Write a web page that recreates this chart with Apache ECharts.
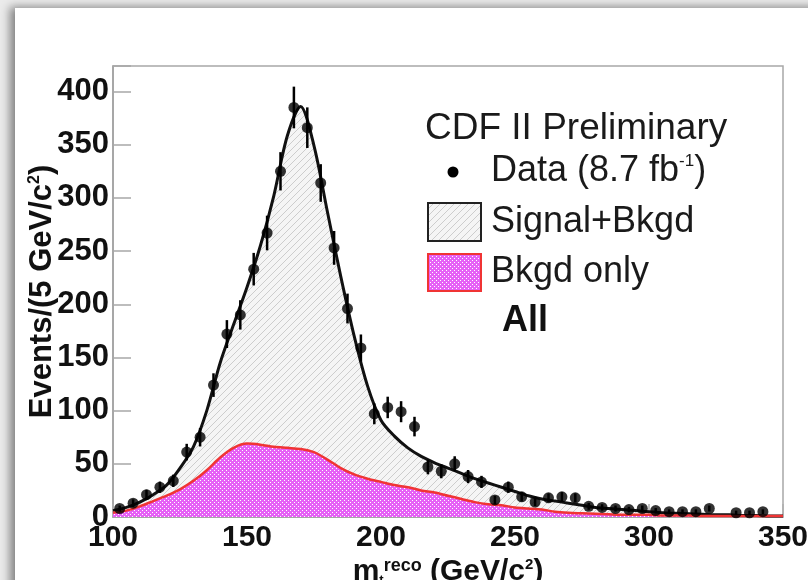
<!DOCTYPE html>
<html><head><meta charset="utf-8">
<script src="https://cdn.jsdelivr.net/npm/echarts@6/dist/echarts.min.js"></script>
<style>
html,body{margin:0;padding:0;width:808px;height:580px;overflow:hidden;background:#ebebeb;}
#card{position:absolute;left:15px;top:8px;width:830px;height:610px;background:#fff;box-shadow:-5px -1px 9px rgba(0,0,0,0.45);}
#chart{position:absolute;left:0;top:0;width:808px;height:580px;}
</style></head><body><div id="card"></div><div id="chart"></div>
<script>
// ---- data ----
const dataX = [102.5,107.5,112.5,117.5,122.5,127.5,132.5,137.5,142.5,147.5,
  152.5,157.5,162.5,167.5,172.5,177.5,182.5,187.5,192.5,197.5,
  202.5,207.5,212.5,217.5,222.5,227.5,232.5,237.5,242.5,247.5,
  252.5,257.5,262.5,267.5,272.5,277.5,282.5,287.5,292.5,297.5,
  302.5,307.5,312.5,317.5,322.5,327.5,332.5,337.5,342.5,347.5];
const dataY = [8,13,21,28,34,61,75,124,172,190,
  233,267,325,385,366,314,253,196,159,97,
  103,99,85,47,43,50,38,33,16,28,
  19,14,18,19,18,10,9,8,7,8,
  6,5,5,5,8,null,4,4,5,null];
const dataErr = [2.8,3.6,4.6,5.3,5.8,7.8,8.7,11.1,13.1,13.8,
  15.3,16.3,18.0,19.6,19.1,17.7,15.9,14.0,12.6,9.8,
  10.1,9.9,9.2,6.9,6.6,7.1,6.2,5.7,4.0,5.3,
  4.4,3.7,4.2,4.4,4.2,3.2,3.0,2.8,2.6,2.8,
  2.4,2.2,2.2,2.2,2.8,null,2.0,2.0,2.2,null];
const curveX = [100,105,110,115,120,125,130,135,140,145,
  150,155,160,165,170,175,180,185,190,195,
  200,205,210,215,220,225,230,235,240,245,
  250,255,260,265,270,275,280,285,290,295,
  300,305,310,315,320,325,330,335,340,345,350];
const sigBkgY = [6,9,14,21,30,46,66,100,145,181,
  216,255,302,358,386,349,287,226,170,123,
  91,76,65,57,51,46,41,36,32,28,
  24,20,17,15,13,11,9,8,7,6,
  5,4,3.5,3,2.5,2,2,1.5,1.5,1,1];
const bkgY = [4,6,10,15,20,26,34,44,56,65,
  69,68,66,65,64,61,54,46,40,36,
  33,30,28,25,23,20,17,14,12,11,
  9,8,7,5,4,3.5,3,2.5,2,2,
  2,1.5,1.5,1.5,1,1,1,1,1,1,1];
const xTicks = [100,150,200,250,300,350];
const yTicks = [0,50,100,150,200,250,300,350,400];

// ---- fill patterns ----
function hatchPattern(){
  const c=document.createElement('canvas'); c.width=7; c.height=7;
  const g=c.getContext('2d');
  g.fillStyle='#f5f5f5'; g.fillRect(0,0,7,7);
  g.strokeStyle='#cdcdcd'; g.lineWidth=1;
  g.beginPath();
  [-7,0,7].forEach(o=>{g.moveTo(o,7);g.lineTo(o+7,0);});
  g.stroke();
  return c;
}
function checkPattern(){
  const c=document.createElement('canvas'); c.width=4; c.height=4;
  const g=c.getContext('2d');
  g.fillStyle='#e660f6'; g.fillRect(0,0,4,4);
  g.fillStyle='#ffffff'; g.fillRect(0,0,1,1); g.fillRect(2,2,1,1);
  return c;
}
const hatch = hatchPattern(), check = checkPattern();
const FF = '"Liberation Sans", Arial, Helvetica, sans-serif';

const chart = echarts.init(document.getElementById('chart'), null, {renderer:'canvas'});
const option = {
  animation:false,
  grid:{left:113,right:25,top:66,bottom:63,containLabel:false,outerBoundsMode:'none',
    show:true,borderColor:'#a8a8a8',borderWidth:1.5,backgroundColor:'transparent'},
  xAxis:{type:'value',min:100,max:350,interval:50,
    axisLine:{show:true,onZero:false,lineStyle:{color:'#a0a0a0',width:1.5}},
    axisTick:{show:true,inside:true,length:13,lineStyle:{color:'#b0b0b0',width:1.5}},
    splitLine:{show:false},
    axisLabel:{show:true,margin:6,color:'#111',fontFamily:FF,fontWeight:'bold',fontSize:30,
      formatter:v=>xTicks.includes(v)?String(v):''},
    name:'{m|m}{t|t}{r|reco}{b| (GeV/c}{s|2}{b|)}',
    nameLocation:'middle',nameGap:40,nameMoveOverlap:false,
    nameTextStyle:{color:'#111',rich:{
      m:{fontFamily:FF,fontWeight:'bold',fontSize:30,color:'#111'},
      t:{fontFamily:FF,fontWeight:'bold',fontSize:13,color:'#111',verticalAlign:'bottom'},
      r:{fontFamily:FF,fontWeight:'bold',fontSize:18,color:'#111',verticalAlign:'top'},
      b:{fontFamily:FF,fontWeight:'bold',fontSize:30,color:'#111'},
      s:{fontFamily:FF,fontWeight:'bold',fontSize:15,color:'#111',verticalAlign:'top'}}}
  },
  yAxis:{type:'value',min:0,max:424,interval:50,
    axisLine:{show:true,lineStyle:{color:'#a0a0a0',width:1.5}},
    axisTick:{show:true,inside:true,length:18,lineStyle:{color:'#a8a8a8',width:1.5}},
    splitLine:{show:false},
    axisLabel:{show:true,margin:4,color:'#111',fontFamily:FF,fontWeight:'bold',fontSize:31,
      formatter:v=>yTicks.includes(v)?String(v):''},
    name:'{b|Events/(5 GeV/c}{s|2}{b|)}',
    nameLocation:'middle',nameGap:55,nameRotate:90,nameMoveOverlap:false,
    nameTextStyle:{color:'#111',rich:{
      b:{fontFamily:FF,fontWeight:'bold',fontSize:31,color:'#111'},
      s:{fontFamily:FF,fontWeight:'bold',fontSize:16,color:'#111',verticalAlign:'top'}}}
  },
  series:[
    {name:'Signal+Bkgd',type:'line',smooth:0.3,symbol:'none',z:2,
      data:curveX.map((x,i)=>[x,sigBkgY[i]]),
      lineStyle:{color:'#111',width:3},
      areaStyle:{color:{image:hatch,repeat:'repeat'},opacity:1}},
    {name:'Bkgd only',type:'line',smooth:0.3,symbol:'none',z:3,
      data:curveX.map((x,i)=>[x,bkgY[i]]),
      lineStyle:{color:'#f03434',width:2.5},
      areaStyle:{color:{image:check,repeat:'repeat'},opacity:1}},
    {name:'errors',type:'custom',z:4,silent:true,
      data:dataX.map((x,i)=>dataY[i]==null?null:[x,dataY[i],dataErr[i]]).filter(d=>d),
      encode:{x:0,y:1},
      renderItem:(params,api)=>{
        const x=api.value(0),y=api.value(1),e=api.value(2);
        const p1=api.coord([x,y-e]),p2=api.coord([x,y+e]);
        return {type:'line',shape:{x1:p1[0],y1:p1[1],x2:p2[0],y2:p2[1]},
          style:{stroke:'#000',lineWidth:2.5}};
      }},
    {name:'Data',type:'scatter',z:5,symbol:'circle',symbolSize:11,
      data:dataX.map((x,i)=>dataY[i]==null?null:[x,dataY[i]]).filter(d=>d),
      itemStyle:{color:'#000'}}
  ],
  graphic:[
    {type:'text',x:425,y:129,style:{text:'CDF II Preliminary',font:'37px '+FF,fill:'#1a1a1a',
      align:'left',verticalAlign:'middle',textAlign:'left',textVerticalAlign:'middle'}},
    {type:'circle',shape:{cx:453,cy:172,r:5.5},style:{fill:'#000'}},
    {type:'text',x:491,y:171,style:{text:'{a|Data (8.7 fb}{s|-1}{a|)}',fill:'#1a1a1a',
      align:'left',verticalAlign:'middle',textAlign:'left',textVerticalAlign:'middle',
      rich:{a:{fontSize:36,fontFamily:FF,fill:'#1a1a1a'},
            s:{fontSize:17,fontFamily:FF,fill:'#1a1a1a',verticalAlign:'top'}}}},
    {type:'rect',shape:{x:428,y:203,width:53,height:38},style:{fill:{image:hatch,repeat:'repeat'},stroke:'#222',lineWidth:2}},
    {type:'text',x:491,y:222,style:{text:'Signal+Bkgd',font:'36px '+FF,fill:'#1a1a1a',
      align:'left',verticalAlign:'middle',textAlign:'left',textVerticalAlign:'middle'}},
    {type:'rect',shape:{x:428,y:254,width:53,height:37},style:{fill:{image:check,repeat:'repeat'},stroke:'#f03434',lineWidth:2}},
    {type:'text',x:491,y:272,style:{text:'Bkgd only',font:'36px '+FF,fill:'#1a1a1a',
      align:'left',verticalAlign:'middle',textAlign:'left',textVerticalAlign:'middle'}},
    {type:'text',x:502,y:321,style:{text:'All',font:'bold 36px '+FF,fill:'#111',
      align:'left',verticalAlign:'middle',textAlign:'left',textVerticalAlign:'middle'}}
  ]
};
chart.setOption(option);
</script></body></html>
